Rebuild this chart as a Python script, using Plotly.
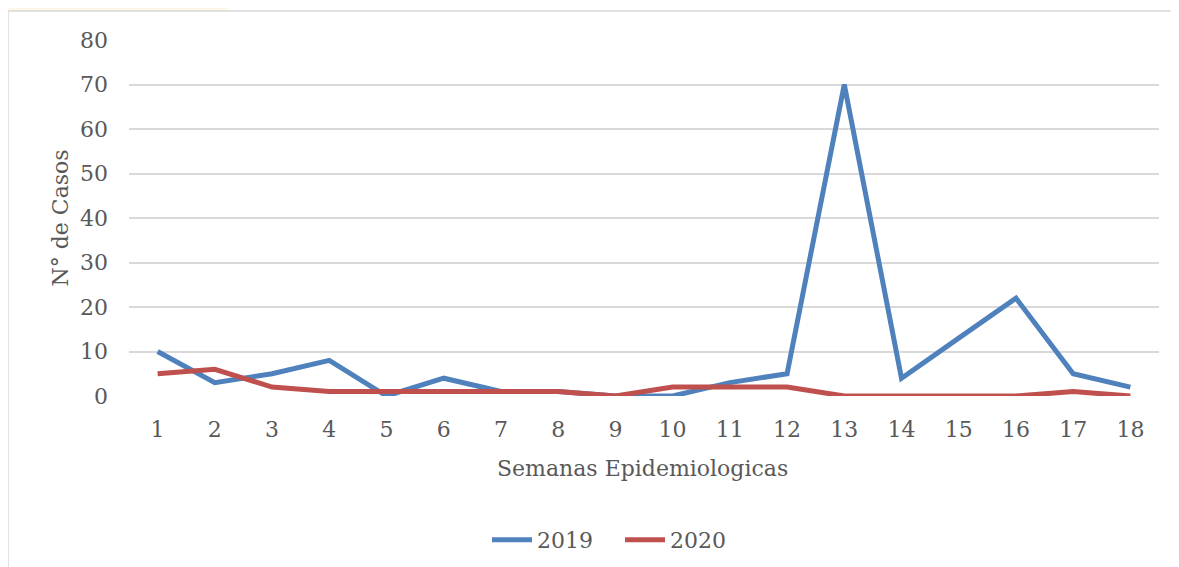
import plotly.graph_objects as go

weeks = [str(i) for i in range(1, 19)]
cases_2019 = [10, 3, 5, 8, 0, 4, 1, 1, 0, 0, 3, 5, 70, 4, 13, 22, 5, 2]
cases_2020 = [5, 6, 2, 1, 1, 1, 1, 1, 0, 2, 2, 2, 0, 0, 0, 0, 1, 0]
y_ticks = [0, 10, 20, 30, 40, 50, 60, 70, 80]

OFF = 8  # page body margin
W, H = 1179 - OFF, 567 - OFF
# plot area in page pixel coordinates
L, R, T, B = 129.4, 1158.6, 40, 396
pw, ph = R - L, B - T

def px(x):
    return (x - L) / pw

def py(y):
    return (B - y) / ph

def cx(x):
    return (x - OFF) / W

def cy(y):
    return 1 - (y - OFF) / H

FONT = "DejaVu Serif"
TXT = "#595959"
FS = 22

fig = go.Figure()
fig.add_trace(go.Scatter(x=weeks, y=cases_2019, mode="lines", name="2019",
                         line=dict(color="#4F81BD", width=5)))
fig.add_trace(go.Scatter(x=weeks, y=cases_2020, mode="lines", name="2020",
                         line=dict(color="#C0504D", width=5)))

def poly(pts, color):
    d = "M " + " L ".join(f"{px(a)},{py(b)}" for a, b in pts) + " Z"
    return dict(type="path", xref="paper", yref="paper", path=d,
                fillcolor=color, line=dict(width=0), layer="below")

shapes = [
    poly([(0, 0), (210, 0), (232, 11), (8, 11), (8, 100), (0, 105)], "#FFF6EA"),
    poly([(0, 330), (8, 335), (8, 395), (0, 390)], "#F2F8EE"),
    poly([(0, 410), (8, 415), (8, 567), (0, 567)], "#FFF6EA"),
    dict(type="rect", xref="paper", yref="paper",
         x0=px(8.5), x1=px(1178), y0=py(600), y1=py(11),
         line=dict(color="#D9D9D9", width=1.5), layer="below"),
]

fig.update_layout(
    width=W, height=H,
    margin=dict(l=L - OFF, r=(W + OFF) - R, t=T - OFF, b=(H + OFF) - B, pad=0),
    paper_bgcolor="white", plot_bgcolor="white",
    font=dict(family=FONT, size=FS, color=TXT),
    showlegend=True,
    legend=dict(orientation="h", xref="container", yref="container",
                x=cx(620), y=cy(540), xanchor="center", yanchor="middle",
                font=dict(size=FS, color=TXT), itemwidth=40, tracegroupgap=0,
                entrywidth=78),
    xaxis=dict(type="category", range=[-0.5, 17.5], showgrid=False, zeroline=False,
               showline=False, ticks="", ticklabelstandoff=18,
               tickfont=dict(size=FS, color=TXT)),
    yaxis=dict(range=[0, 80], tickvals=y_ticks, showgrid=True, gridcolor="#D9D9D9",
               gridwidth=1.5, zeroline=False, showline=False, ticks="",
               ticklabelstandoff=20, tickfont=dict(size=FS, color=TXT)),
    shapes=shapes,
    annotations=[
        dict(text="N° de Casos", xref="paper", yref="paper", x=px(60), y=py(218),
             showarrow=False, textangle=-90, xanchor="center", yanchor="middle",
             font=dict(size=FS, color=TXT)),
        dict(text="Semanas Epidemiologicas", xref="paper", yref="paper", x=px(643), y=py(469),
             showarrow=False, xanchor="center", yanchor="middle",
             font=dict(size=FS, color=TXT)),
    ],
)

fig.write_html("out.html")
